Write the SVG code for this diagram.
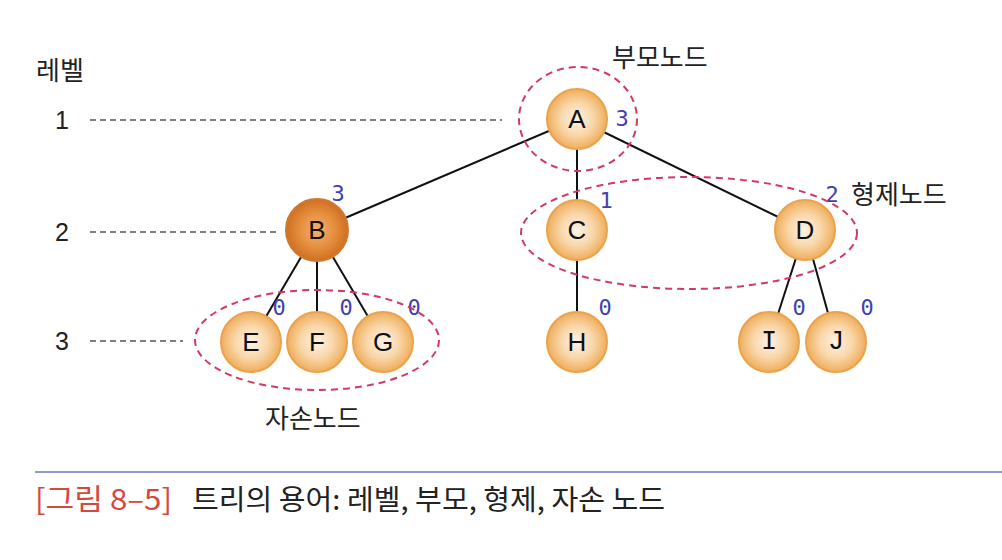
<svg xmlns="http://www.w3.org/2000/svg" width="1002" height="560" viewBox="0 0 1002 560">
<defs>
<radialGradient id="g" cx="50%" cy="50%" r="50%">
<stop offset="0" stop-color="#fdf3e8"/>
<stop offset="0.55" stop-color="#f9d6a8"/>
<stop offset="1" stop-color="#efae5c"/>
</radialGradient>
<radialGradient id="gb" cx="50%" cy="50%" r="50%">
<stop offset="0" stop-color="#f3b070"/>
<stop offset="0.6" stop-color="#e48c3c"/>
<stop offset="1" stop-color="#cf6f22"/>
</radialGradient>
<style>
.n{fill:url(#g);stroke:#eba24c;stroke-width:2}
.nb{fill:url(#gb);stroke:#d0782c;stroke-width:2}
.t{font-family:"Liberation Sans",Arial,sans-serif;font-size:26px;fill:#111;text-anchor:middle;dominant-baseline:central}
.tm{font-family:"Liberation Mono","DejaVu Sans Mono",monospace;font-size:27px;fill:#111;text-anchor:middle;dominant-baseline:central}
.d{font-family:"DejaVu Sans Mono","Liberation Mono",monospace;font-size:22px;fill:#4040b0;text-anchor:middle;dominant-baseline:central}
.k{font-family:"Noto Sans CJK KR","Noto Sans",sans-serif;font-size:26px;fill:#222}
.lv{font-family:"Liberation Sans",Arial,sans-serif;font-size:25px;fill:#222;text-anchor:middle;dominant-baseline:central}
.e{stroke:#111;stroke-width:2;fill:none}
.dl{stroke:#555;stroke-width:1.3;stroke-dasharray:6 4;fill:none}
.el{stroke:#d23a64;stroke-width:2;stroke-dasharray:7 5;fill:none}
</style>
</defs>
<rect width="1002" height="560" fill="#ffffff"/>
<g id="levels">
<text class="k" x="36" y="80" font-size="25">레벨</text>
<text class="lv" x="62" y="120">1</text>
<text class="lv" x="62" y="232">2</text>
<text class="lv" x="62" y="341">3</text>
<line class="dl" x1="90" y1="120" x2="502" y2="120"/>
<line class="dl" x1="90" y1="232" x2="280" y2="232"/>
<line class="dl" x1="90" y1="341" x2="183" y2="341"/>
</g>
<g id="connectors">
<line class="e" x1="577" y1="119" x2="317" y2="230"/>
<line class="e" x1="577" y1="119" x2="577" y2="230"/>
<line class="e" x1="577" y1="119" x2="805" y2="230"/>
<line class="e" x1="317" y1="230" x2="251" y2="342"/>
<line class="e" x1="317" y1="230" x2="317" y2="342"/>
<line class="e" x1="317" y1="230" x2="383" y2="342"/>
<line class="e" x1="577" y1="230" x2="577" y2="342"/>
<line class="e" x1="805" y1="230" x2="769" y2="342"/>
<line class="e" x1="805" y1="230" x2="836" y2="342"/>
</g>
<g id="nodeA"><circle class="n" cx="577" cy="119" r="30"/><text class="t" x="577" y="119">A</text><text class="d" x="622" y="118">3</text></g>
<g id="nodeB"><circle class="nb" cx="317" cy="230" r="31"/><text class="t" x="317" y="230">B</text><text class="d" x="338" y="193">3</text></g>
<g id="nodeC"><circle class="n" cx="577" cy="230" r="30"/><text class="t" x="577" y="230">C</text><text class="d" x="606" y="200">1</text></g>
<g id="nodeD"><circle class="n" cx="805" cy="230" r="30"/><text class="t" x="805" y="230">D</text><text class="d" x="832" y="194">2</text></g>
<g id="nodeE"><circle class="n" cx="251" cy="342" r="30"/><text class="t" x="251" y="342">E</text><text class="d" x="279" y="307">0</text></g>
<g id="nodeF"><circle class="n" cx="317" cy="342" r="30"/><text class="t" x="317" y="342">F</text><text class="d" x="346" y="307">0</text></g>
<g id="nodeG"><circle class="n" cx="383" cy="342" r="30"/><text class="t" x="383" y="342">G</text><text class="d" x="414" y="307">0</text></g>
<g id="nodeH"><circle class="n" cx="577" cy="342" r="30"/><text class="t" x="577" y="342">H</text><text class="d" x="605" y="307">0</text></g>
<g id="nodeI"><circle class="n" cx="769" cy="342" r="30"/><text class="tm" x="769" y="342">I</text><text class="d" x="799" y="307">0</text></g>
<g id="nodeJ"><circle class="n" cx="836" cy="342" r="30"/><text class="tm" x="836" y="342">J</text><text class="d" x="867" y="307">0</text></g>
<g id="groups">
<ellipse class="el" cx="578" cy="119" rx="59" ry="52"/>
<ellipse class="el" cx="689" cy="233" rx="168" ry="56"/>
<ellipse class="el" cx="317" cy="340" rx="122" ry="50"/>
<text class="k" x="612" y="67">부모노드</text>
<text class="k" x="851" y="204">형제노드</text>
<text class="k" x="265" y="428">자손노드</text>
</g>
<g id="caption">
<line x1="35" y1="472" x2="1002" y2="472" stroke="#8a9ccc" stroke-width="2"/>
<text x="35" y="510" font-family="'Noto Sans CJK KR',sans-serif" font-size="29" fill="#d8473d" textLength="137" lengthAdjust="spacingAndGlyphs">[그림 8–5]</text>
<text x="192" y="510" font-family="'Noto Sans CJK KR',sans-serif" font-size="28" fill="#222" textLength="473" lengthAdjust="spacingAndGlyphs">트리의 용어: 레벨, 부모, 형제, 자손 노드</text>
</g>
</svg>
